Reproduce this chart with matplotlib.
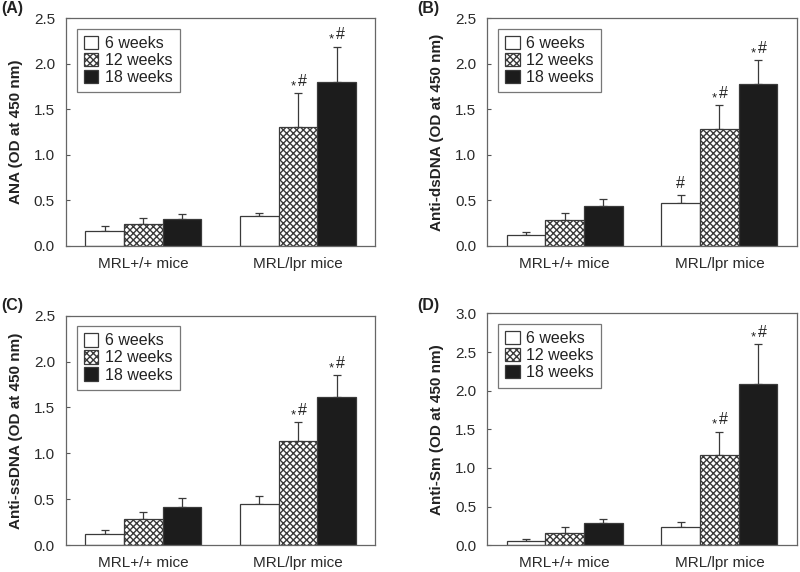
import matplotlib
matplotlib.use("Agg")
import matplotlib.pyplot as plt
import numpy as np

plt.rcParams['font.family'] = ['Liberation Sans', 'DejaVu Sans']
plt.rcParams['hatch.linewidth'] = 1.0

groups = ["MRL+/+ mice", "MRL/lpr mice"]
series = ["6 weeks", "12 weeks", "18 weeks"]

# values[series][group], errors[series][group]
ana_vals = [[0.16, 0.33], [0.24, 1.31], [0.30, 1.80]]
ana_errs = [[0.06, 0.03], [0.07, 0.37], [0.05, 0.39]]
ana_marks = [["", ""], ["", "*#"], ["", "*#"]]

ds_vals = [[0.12, 0.47], [0.29, 1.28], [0.44, 1.78]]
ds_errs = [[0.03, 0.09], [0.07, 0.27], [0.08, 0.26]]
ds_marks = [["", "#"], ["", "*#"], ["", "*#"]]

ss_vals = [[0.12, 0.45], [0.28, 1.13], [0.42, 1.61]]
ss_errs = [[0.04, 0.09], [0.08, 0.21], [0.09, 0.24]]
ss_marks = [["", ""], ["", "*#"], ["", "*#"]]

sm_vals = [[0.05, 0.23], [0.16, 1.17], [0.28, 2.08]]
sm_errs = [[0.03, 0.07], [0.08, 0.30], [0.06, 0.52]]
sm_marks = [["", ""], ["", "*#"], ["", "*#"]]

panels = [
    ("(A)", "ANA (OD at 450 nm)", ana_vals, ana_errs, ana_marks, 2.5),
    ("(B)", "Anti-dsDNA (OD at 450 nm)", ds_vals, ds_errs, ds_marks, 2.5),
    ("(C)", "Anti-ssDNA (OD at 450 nm)", ss_vals, ss_errs, ss_marks, 2.5),
    ("(D)", "Anti-Sm (OD at 450 nm)", sm_vals, sm_errs, sm_marks, 3.0),
]

positions = [
    [0.0825, 0.570, 0.3865, 0.398],
    [0.609, 0.570, 0.387, 0.398],
    [0.0825, 0.047, 0.3865, 0.401],
    [0.609, 0.047, 0.387, 0.405],
]
label_pos = [(0.002, 0.998), (0.521, 0.998), (0.002, 0.479), (0.521, 0.479)]

fig = plt.figure(figsize=(8, 5.72), dpi=100)
edge = "#3a3a3a"
styles = [
    dict(facecolor="white", edgecolor=edge, hatch=None),
    dict(facecolor="white", edgecolor=edge, hatch="xxxxx"),
    dict(facecolor="#1c1c1c", edgecolor=edge, hatch=None),
]
width = 0.25
offsets = [-0.25, 0.0, 0.25]
x = np.arange(len(groups))

for (label, ylabel, vals, errs, marks, ymax), pos, lp in zip(panels, positions, label_pos):
    ax = fig.add_axes(pos)
    handles = []
    for i in range(3):
        st = styles[i]
        b = ax.bar(x + offsets[i], vals[i], width, facecolor=st["facecolor"],
                   edgecolor=st["edgecolor"], hatch=st["hatch"], linewidth=0.9,
                   label=series[i], zorder=2)
        ax.errorbar(x + offsets[i], vals[i], yerr=[np.zeros(2), errs[i]],
                    fmt="none", ecolor=edge, elinewidth=0.9, capsize=3,
                    capthick=0.9, zorder=1)
        handles.append(b)
        for g in range(2):
            m = marks[i][g]
            top = vals[i][g] + errs[i][g]
            xc = x[g] + offsets[i]
            if m == "*#":
                ax.annotate("*", (xc, top), xytext=(-3.5, 0.5), textcoords="offset points",
                            ha="center", va="bottom", fontsize=9.5, color="#222")
                ax.annotate("#", (xc, top), xytext=(3, 3), textcoords="offset points",
                            ha="center", va="bottom", fontsize=11.5, color="#222")
            elif m == "#":
                ax.annotate("#", (xc, top), xytext=(0, 3), textcoords="offset points",
                            ha="center", va="bottom", fontsize=11.5, color="#222")
    ax.set_xlim(-0.5, 1.5)
    ax.set_ylim(0, ymax)
    ticks = np.arange(0, ymax + 0.01, 0.5)
    ax.set_yticks(ticks)
    ax.set_yticklabels([f"{v:.1f}" for v in ticks])
    ax.set_xticks(x)
    ax.set_xticklabels(groups)
    ax.tick_params(axis="x", length=0, pad=8, labelsize=11, labelcolor="#2a2a2a")
    ax.tick_params(axis="y", direction="in", length=3, width=0.8, pad=8,
                   labelsize=11, labelcolor="#2a2a2a", color="#555")
    for s in ax.spines.values():
        s.set_color("#666")
        s.set_linewidth(0.9)
    ax.set_ylabel(ylabel, fontsize=11, fontweight="bold", color="#222", labelpad=8)
    leg = ax.legend(handles=handles, loc="upper left", bbox_to_anchor=(0.035, 0.955),
                    fontsize=11.5, frameon=True, fancybox=False, handlelength=0.9,
                    handleheight=0.9, handletextpad=0.4, labelspacing=0.12,
                    borderpad=0.45, borderaxespad=0)
    leg.get_frame().set_edgecolor("#555")
    leg.get_frame().set_linewidth(0.9)
    for t in leg.get_texts():
        t.set_color("#222")
    fig.text(lp[0], lp[1], label, fontsize=11.5, fontweight="bold",
             ha="left", va="top", color="#222")

fig.savefig("out.png", dpi=100)
